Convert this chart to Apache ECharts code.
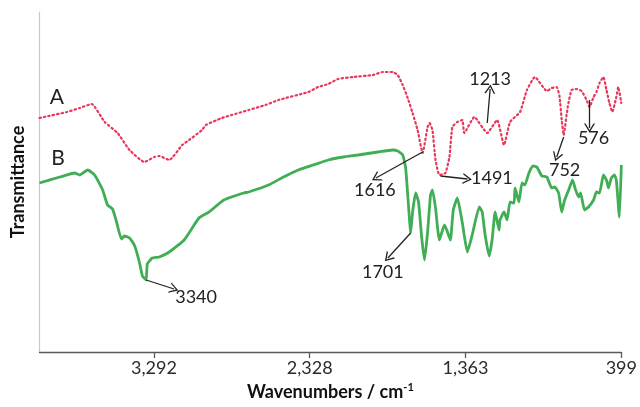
<!DOCTYPE html>
<html>
<head>
<meta charset="utf-8">
<script src="https://cdn.jsdelivr.net/npm/echarts@6/dist/echarts.min.js"></script>
<style>html,body{margin:0;padding:0;background:#fff}#c{width:640px;height:407px}</style>
</head>
<body>
<div id="c"></div>
<script>
// Wavenumbers (cm-1) and transmittance (arbitrary units)
var wnA = [4000,3972,3831,3751,3677,3597,3517,3443,3351,3290,3259,3197,3117,3074,2994,2970,2871,2810,2705,2601,2521,2336,2275,2213,2152,2060,1937,1875,1814,1783,1752,1721,1691,1660,1629,1598,1586,1568,1549,1525,1488,1463,1445,1414,1383,1371,1309,1229,1168,1125,1088,1026,983,934,860,830,799,781,768,756,731,707,676,645,614,596,571,553,534,510,491,473,455,430,418,399];
var tA  = [234,235,240,244,248,230,219,202,190,195,196,192,207,212,222,227,234,237,242,247,252,260,265,268,273,275,277,280,280,277,267,254,239,222,199,225,229,222,192,177,179,195,225,230,232,219,235,219,232,207,230,240,262,275,261,264,265,255,232,217,245,262,263,261,252,245,255,260,269,275,262,249,240,255,265,249];
var wnB = [4000,3874,3782,3751,3702,3659,3609,3579,3548,3523,3493,3474,3443,3413,3382,3363,3340,3333,3302,3259,3197,3105,3013,2951,2859,2736,2705,2582,2490,2398,2306,2213,2121,2029,1906,1814,1783,1752,1734,1721,1709,1703,1691,1672,1654,1635,1617,1598,1580,1568,1549,1525,1494,1475,1457,1439,1414,1383,1352,1322,1278,1260,1242,1217,1199,1180,1156,1150,1125,1106,1088,1063,1057,1033,1014,996,971,946,922,891,860,830,811,787,768,750,725,701,682,664,651,627,602,571,553,534,510,491,479,461,442,430,411,399];
var tB  = [169,175,179,177,182,177,162,147,143,130,113,116,114,107,90,76,72,88,94,95,100,112,134,140,152,159,160,167,175,182,187,192,195,197,200,202,201,197,184,157,130,119,140,159,150,115,92,120,157,162,144,112,127,120,112,142,154,129,100,117,145,140,117,96,112,140,122,132,140,132,150,149,164,150,169,167,179,186,185,176,175,164,165,159,140,152,162,172,162,155,159,142,145,152,160,159,177,172,164,174,177,172,135,187];
var xTickLabels = ['3,292','2,328','1,363','399'];
var seriesNames = ['A','B'];
// annotation texts, arrow start, arrow tip, label centre (data units)
var annText  = ['3340','1616','1491','1213','752','576','1701'];
var annFrom  = [[3340,72],[1629,200],[1518,176],[1229,229],[756,215],[596,252],[1703,119]];
var annTo    = [[3167,63],[1918,174],[1352,173],[1211,263],[799,195],[596,224],[1844,94]];
var annLabel = [[3031,55],[1924,162],[1200,174],[1211,273],[750,182],[571,214],[1875,80]];
var nameLabelPos = [[3892,255],[3886,194]];

var FONT = 'Lato';
var chevron = 'path://M5,0 L10,10 L8.6,10 L5,2.8 L1.4,10 L0,10 Z';

var chart = echarts.init(document.getElementById('c'), null, {renderer:'canvas'});
var lineA = wnA.map(function(w,i){return [w,tA[i]];});
var lineB = wnB.map(function(w,i){return [w,tB[i]];});

var mlData = annFrom.map(function(f,i){return [{coord:f},{coord:annTo[i]}];});
var mpData = annText.map(function(t,i){return {name:t, coord:annLabel[i]};});
nameLabelPos.forEach(function(p,i){ mpData.push({name:seriesNames[i], coord:p, label:{fontSize:21}}); });

chart.setOption({
  animation:false,
  backgroundColor:'#fff',
  grid:{left:39.5, right:15, top:12, bottom:55},
  xAxis:{
    type:'value', inverse:true, min:399, max:4000, interval:(3292-399)/3,
    name:'{a|Wavenumbers / cm}{b|-1}', nameLocation:'middle', nameGap:30,
    nameTextStyle:{rich:{
      a:{fontFamily:FONT, fontWeight:'bold', fontSize:18, color:'#111'},
      b:{fontFamily:FONT, fontWeight:'bold', fontSize:11, color:'#111', verticalAlign:'top', padding:[0,0,10,0]}
    }},
    axisLine:{lineStyle:{color:'#5a5a5a', width:1.3}},
    axisTick:{show:true, length:6, lineStyle:{color:'#5a5a5a', width:1.3}},
    axisLabel:{showMaxLabel:false, showMinLabel:true, fontFamily:FONT, fontSize:18, color:'#2a2a2a', margin:7,
      formatter:function(v){ var r=Math.round(v); var idx=[3292,2328,1363,399].indexOf(r); return idx>=0?xTickLabels[idx]:''; }},
    splitLine:{show:false}
  },
  yAxis:{
    type:'value', min:0, max:340,
    name:'Transmittance', nameLocation:'middle', nameGap:12, nameRotate:90,
    nameTextStyle:{fontFamily:FONT, fontWeight:'bold', fontSize:18, color:'#111'},
    axisLine:{show:true, lineStyle:{color:'#c3cad6', width:1.2}},
    axisTick:{show:false}, axisLabel:{show:false}, splitLine:{show:false}
  },
  series:[
    {name:seriesNames[0], type:'line', data:lineA, showSymbol:false, smooth:0.15,
     lineStyle:{color:'#e8375b', width:2.2, type:[1.5,3], cap:'round'}},
    {name:seriesNames[1], type:'line', data:lineB, showSymbol:false, smooth:0.15,
     lineStyle:{color:'#3fae55', width:2.8}},
    {name:'ann', type:'line', data:[], silent:true,
     markLine:{silent:true, symbol:['none', chevron], symbolSize:[11,9], precision:5,
       lineStyle:{color:'#222', width:1.3, type:'solid'}, label:{show:false}, data:mlData},
     markPoint:{silent:true, symbol:'circle', symbolSize:1, itemStyle:{color:'rgba(0,0,0,0)'},
       label:{show:true, position:'inside', formatter:'{b}', fontFamily:FONT, fontSize:18, color:'#222'},
       data:mpData}}
  ]
});
</script>
</body>
</html>
